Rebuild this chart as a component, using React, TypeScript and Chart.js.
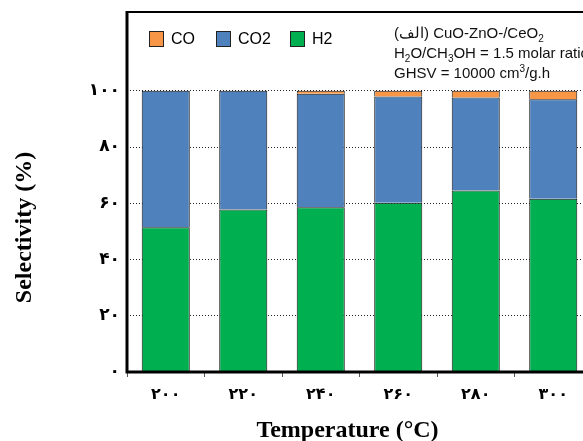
import React, { useEffect, useRef } from 'react';
import { Chart, registerables } from 'chart.js';

Chart.register(...registerables);

// ---- data ----
const temperatures = [200, 220, 240, 260, 280, 300];
const h2Values = [51.5, 57.8, 58.6, 60.2, 64.5, 61.6];
const co2Values = [48.5, 42.2, 40.3, 37.8, 33.1, 35.4];
const coValues = [0, 0, 1.1, 2.0, 2.4, 3.0];
const yTickValues = [0, 20, 40, 60, 80, 100];
const seriesNames = ['CO', 'CO2', 'H2'];
const seriesColors = ['#F79646', '#4F81BD', '#00B050'];
const xTitle = 'Temperature (°C)';
const yTitle = 'Selectivity (%)';
// annotation lines: [text, baselineShift] (0 normal, 1 subscript, -1 superscript)
const annotationLine1: [string, number][] = [['(الف) CuO-ZnO-/CeO', 0], ['2', 1]];
const annotationLine2: [string, number][] = [['H', 0], ['2', 1], ['O/CH', 0], ['3', 1], ['OH = 1.5 molar ratio', 0]];
const annotationLine3: [string, number][] = [['GHSV = 10000 cm', 0], ['3', -1], ['/g.h', 0]];

const persianDigits = '۰۱۲۳۴۵۶۷۸۹';
const toPersian = (n: number | string) => String(n).replace(/\d/g, (d) => persianDigits[+d]);

const decorPlugin = {
  id: 'decor',
  afterDraw(chart: any) {
    const ctx = chart.ctx as CanvasRenderingContext2D;
    const a = chart.chartArea;
    ctx.save();
    // frame
    ctx.strokeStyle = '#000';
    ctx.lineWidth = 2;
    ctx.beginPath();
    ctx.moveTo(a.left, a.top);
    ctx.lineTo(a.right, a.top);
    ctx.lineTo(a.right, a.bottom);
    ctx.stroke();
    ctx.lineWidth = 3;
    ctx.beginPath();
    ctx.moveTo(a.left, a.top - 1);
    ctx.lineTo(a.left, a.bottom);
    ctx.lineTo(a.right, a.bottom);
    ctx.stroke();

    // legend
    ctx.font = '16px "Liberation Sans", Arial, sans-serif';
    ctx.textBaseline = 'middle';
    ctx.textAlign = 'left';
    const legendX = [a.left + 22, a.left + 89, a.left + 163];
    const ly = a.top + 19;
    seriesNames.forEach((name, i) => {
      ctx.fillStyle = seriesColors[i];
      ctx.fillRect(legendX[i], ly, 15, 16);
      ctx.strokeStyle = '#222';
      ctx.lineWidth = 1;
      ctx.strokeRect(legendX[i] + 0.5, ly + 0.5, 14, 15);
      ctx.fillStyle = '#000';
      ctx.fillText(name, legendX[i] + 22, ly + 9);
    });

    // annotation
    const drawRich = (segs: [string, number][], x: number, y: number) => {
      let cx = x;
      ctx.textBaseline = 'alphabetic';
      ctx.fillStyle = '#111';
      segs.forEach(([t, s]) => {
        if (s === 0) {
          ctx.font = '15px "Liberation Sans", Arial, sans-serif';
          ctx.fillText(t, cx, y);
        } else {
          ctx.font = '10px "Liberation Sans", Arial, sans-serif';
          ctx.fillText(t, cx, s > 0 ? y + 4 : y - 6);
        }
        cx += ctx.measureText(t).width;
      });
    };
    const ax = a.left + 267;
    drawRich(annotationLine1, ax, a.top + 26);
    drawRich(annotationLine2, ax, a.top + 46);
    drawRich(annotationLine3, ax, a.top + 66);

    // axis titles
    ctx.fillStyle = '#000';
    ctx.font = 'bold 24px "Liberation Serif", "Times New Roman", serif';
    ctx.textAlign = 'center';
    ctx.textBaseline = 'alphabetic';
    ctx.fillText(xTitle, 347.5, 437);
    ctx.translate(31, 227.5);
    ctx.rotate(-Math.PI / 2);
    ctx.fillText(yTitle, 0, 0);
    ctx.restore();
  },
};

export default function App() {
  const ref = useRef<HTMLCanvasElement>(null);
  useEffect(() => {
    if (!ref.current) return;
    const barCommon = {
      borderColor: '#111',
      borderWidth: 1,
      barPercentage: 0.62,
      categoryPercentage: 1,
    };
    const chart = new Chart(ref.current, {
      type: 'bar',
      data: {
        labels: temperatures.map((t) => toPersian(t)),
        datasets: [
          { label: seriesNames[2], data: h2Values, backgroundColor: seriesColors[2], ...barCommon },
          { label: seriesNames[1], data: co2Values, backgroundColor: seriesColors[1], ...barCommon },
          { label: seriesNames[0], data: coValues, backgroundColor: seriesColors[0], ...barCommon },
        ],
      },
      options: {
        responsive: false,
        animation: false,
        devicePixelRatio: 1,
        layout: { padding: { top: 0, right: 8, left: 0, bottom: 0 } },
        plugins: { legend: { display: false }, tooltip: { enabled: false }, title: { display: false } },
        scales: {
          x: {
            stacked: true,
            offset: true,
            grid: { offset: true, drawOnChartArea: false, drawTicks: true, tickLength: 5, color: '#555', lineWidth: 1 },
            border: { display: false },
            ticks: {
              color: '#000',
              font: { family: '"DejaVu Sans", sans-serif', size: 16, weight: 'bold' },
              padding: 8,
              maxRotation: 0,
            },
            afterFit(scale: any) {
              scale.height = 69;
            },
          },
          y: {
            stacked: true,
            min: 0,
            max: 128,
            afterBuildTicks(scale: any) {
              scale.ticks = yTickValues.map((v) => ({ value: v }));
            },
            afterFit(scale: any) {
              scale.width = 127;
              scale.paddingTop = 12;
            },
            grid: { drawTicks: false, color: '#222', lineWidth: 1 },
            border: { display: false, dash: [1, 2] },
            ticks: {
              color: '#000',
              padding: 7,
              font: { family: '"DejaVu Sans", sans-serif', size: 17, weight: 'bold' },
              callback: (v: any) => toPersian(v),
            },
          },
        },
      },
      plugins: [decorPlugin],
    });
    return () => chart.destroy();
  }, []);

  return (
    <div style={{ position: 'fixed', left: 0, top: 0, width: 583, height: 441, overflow: 'hidden', background: '#fff' }}>
      <canvas ref={ref} width={600} height={441} style={{ display: 'block', width: 600, height: 441 }} />
    </div>
  );
}
